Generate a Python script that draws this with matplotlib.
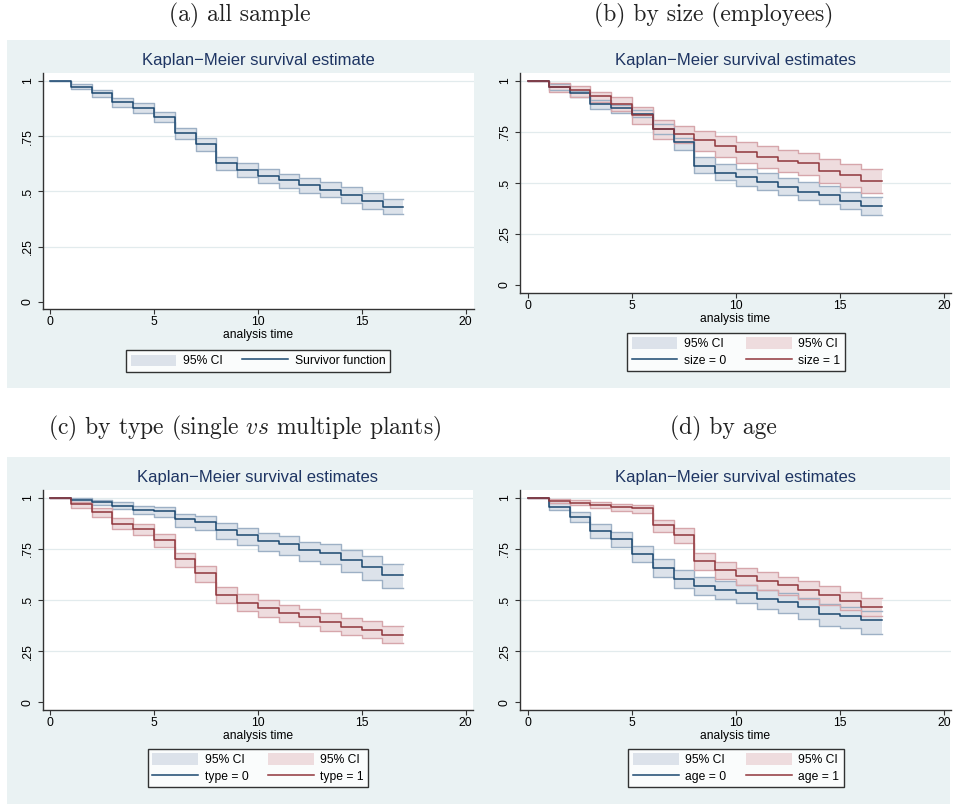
import matplotlib
matplotlib.use("Agg")
import matplotlib.pyplot as plt
from matplotlib.patches import Rectangle, Patch
from matplotlib.lines import Line2D

plt.rcParams['font.family'] = ['Liberation Sans', 'DejaVu Sans']
plt.rcParams['mathtext.fontset'] = 'cm'

# analysis time (step edges)
times = [0, 1, 2, 3, 4, 5, 6, 7, 8, 9, 10, 11, 12, 13, 14, 15, 16, 17]

# (a) all sample
all_s  = [1.0, 0.974, 0.947, 0.905, 0.877, 0.839, 0.764, 0.714, 0.628, 0.598, 0.571, 0.550, 0.530, 0.508, 0.485, 0.456, 0.431]
all_hi = [1.0, 0.985, 0.959, 0.923, 0.899, 0.861, 0.789, 0.741, 0.658, 0.628, 0.601, 0.581, 0.560, 0.541, 0.518, 0.491, 0.465]
all_lo = [1.0, 0.964, 0.929, 0.883, 0.854, 0.813, 0.736, 0.682, 0.598, 0.565, 0.538, 0.515, 0.492, 0.474, 0.449, 0.422, 0.396]

# (b) by size
size0_s  = [1.0, 0.972, 0.939, 0.889, 0.868, 0.840, 0.765, 0.703, 0.585, 0.551, 0.528, 0.506, 0.482, 0.457, 0.439, 0.411, 0.385]
size0_hi = [1.0, 0.985, 0.951, 0.905, 0.881, 0.857, 0.790, 0.719, 0.626, 0.594, 0.568, 0.549, 0.526, 0.503, 0.486, 0.457, 0.431]
size0_lo = [1.0, 0.956, 0.920, 0.865, 0.845, 0.822, 0.740, 0.662, 0.548, 0.516, 0.486, 0.467, 0.443, 0.418, 0.398, 0.372, 0.344]
size1_s  = [1.0, 0.972, 0.954, 0.926, 0.889, 0.832, 0.765, 0.739, 0.711, 0.679, 0.651, 0.626, 0.608, 0.597, 0.561, 0.540, 0.512]
size1_hi = [1.0, 0.989, 0.974, 0.948, 0.920, 0.871, 0.809, 0.780, 0.757, 0.728, 0.700, 0.679, 0.662, 0.649, 0.617, 0.595, 0.570]
size1_lo = [1.0, 0.948, 0.923, 0.896, 0.855, 0.788, 0.715, 0.698, 0.657, 0.625, 0.597, 0.572, 0.553, 0.540, 0.502, 0.479, 0.453]

# (c) by type
type0_s  = [1.0, 0.990, 0.979, 0.962, 0.941, 0.936, 0.897, 0.884, 0.842, 0.817, 0.791, 0.775, 0.746, 0.731, 0.695, 0.661, 0.622]
type0_hi = [1.0, 0.998, 0.992, 0.979, 0.962, 0.958, 0.920, 0.912, 0.876, 0.855, 0.830, 0.816, 0.786, 0.777, 0.747, 0.715, 0.679]
type0_lo = [1.0, 0.982, 0.966, 0.946, 0.920, 0.905, 0.860, 0.843, 0.798, 0.770, 0.741, 0.721, 0.692, 0.675, 0.638, 0.599, 0.558]
type1_s  = [1.0, 0.969, 0.930, 0.874, 0.848, 0.793, 0.700, 0.631, 0.524, 0.488, 0.459, 0.436, 0.415, 0.395, 0.370, 0.352, 0.331]
type1_hi = [1.0, 0.982, 0.949, 0.900, 0.874, 0.822, 0.732, 0.669, 0.563, 0.529, 0.499, 0.477, 0.455, 0.436, 0.413, 0.396, 0.374]
type1_lo = [1.0, 0.953, 0.907, 0.848, 0.817, 0.759, 0.661, 0.591, 0.485, 0.447, 0.418, 0.392, 0.372, 0.351, 0.330, 0.313, 0.290]

# (d) by age
age0_s  = [1.0, 0.958, 0.909, 0.840, 0.798, 0.724, 0.659, 0.604, 0.571, 0.551, 0.533, 0.506, 0.493, 0.465, 0.434, 0.424, 0.401]
age0_hi = [1.0, 0.974, 0.933, 0.871, 0.832, 0.763, 0.700, 0.646, 0.615, 0.595, 0.576, 0.550, 0.537, 0.509, 0.480, 0.468, 0.449]
age0_lo = [1.0, 0.941, 0.881, 0.802, 0.761, 0.685, 0.613, 0.558, 0.525, 0.506, 0.485, 0.456, 0.439, 0.408, 0.374, 0.362, 0.334]
age1_s  = [1.0, 0.985, 0.977, 0.966, 0.954, 0.949, 0.868, 0.819, 0.692, 0.648, 0.618, 0.595, 0.573, 0.551, 0.525, 0.497, 0.466]
age1_hi = [1.0, 0.995, 0.990, 0.980, 0.972, 0.966, 0.892, 0.852, 0.729, 0.688, 0.657, 0.636, 0.615, 0.594, 0.569, 0.542, 0.512]
age1_lo = [1.0, 0.974, 0.966, 0.949, 0.936, 0.925, 0.832, 0.778, 0.648, 0.602, 0.574, 0.550, 0.525, 0.504, 0.476, 0.450, 0.423]

yticks = [0, 0.25, 0.5, 0.75, 1]
ytick_labels = ['0', '.25', '.5', '.75', '1']
xticks = [0, 5, 10, 15, 20]

NAVY = '#1A476F'
MAROON = '#90353B'
CI_FILL = {NAVY: '#DCE2EA', MAROON: '#EEDCDE'}
CI_EDGE = {NAVY: '#9DB0C5', MAROON: '#D6A6AB'}
BG = '#EAF2F3'
TITLE_C = '#1E3563'

W, H = 954, 805
fig = plt.figure(figsize=(W / 100, H / 100), dpi=100)
fig.patch.set_facecolor('white')


def px_axes(x0, y0, x1, y1):
    return fig.add_axes([x0 / W, 1 - y1 / H, (x1 - x0) / W, (y1 - y0) / H], zorder=2)


def bg_rect(x0, y0, x1, y1):
    fig.patches.append(Rectangle((x0 / W, 1 - y1 / H), (x1 - x0) / W, (y1 - y0) / H,
                                 transform=fig.transFigure, facecolor=BG, edgecolor='none', zorder=-10))


def km(ax, s, hi, lo, color):
    s = s + [s[-1]]
    hi = hi + [hi[-1]]
    lo = lo + [lo[-1]]
    ax.fill_between(times, lo, hi, step='post', facecolor=CI_FILL[color], edgecolor='none', zorder=2)
    ax.step(times, hi, where='post', color=CI_EDGE[color], lw=1.0, zorder=3)
    ax.step(times, lo, where='post', color=CI_EDGE[color], lw=1.0, zorder=3)
    ax.step(times, s, where='post', color=color, lw=1.1, zorder=4)


def style(ax, xlim, ylim):
    ax.set_xlim(*xlim)
    ax.set_ylim(*ylim)
    ax.set_facecolor('white')
    for sp in ['top', 'right']:
        ax.spines[sp].set_visible(False)
    for sp in ['left', 'bottom']:
        ax.spines[sp].set_color('#333333')
        ax.spines[sp].set_linewidth(1.0)
    ax.set_xticks(xticks)
    ax.set_xticklabels([str(v) for v in xticks], fontsize=8.7)
    ax.set_yticks(yticks)
    ax.set_yticklabels(ytick_labels, fontsize=8.7, rotation=90, va='center')
    ax.tick_params(axis='both', length=3.6, width=0.8, color='#333333', pad=1.5)
    ax.tick_params(axis='y', pad=3)
    for yv in yticks[1:]:
        ax.axhline(yv, color='#E2EBED', lw=0.9, zorder=1)
    ax.set_xlabel('analysis time', fontsize=8.7, labelpad=0.5)


def legend(ax, handles, labels, cx, cy, ncol):
    lg = ax.legend(handles, labels, loc='center', bbox_to_anchor=(cx / W, 1 - cy / H),
                   bbox_transform=fig.transFigure, ncol=ncol, fontsize=8.7, frameon=True,
                   fancybox=False, edgecolor='black', handlelength=3.8, handleheight=1.1,
                   handletextpad=0.55, columnspacing=1.6, labelspacing=0.35, borderpad=0.35)
    lg.get_frame().set_linewidth(1.0)


def ci_patch(color):
    return Patch(facecolor=CI_FILL[color], edgecolor='none')


def line_h(color):
    return Line2D([], [], color=color, lw=1.1)


title_1 = 'Kaplan\u2212Meier survival estimate'
title_n = 'Kaplan\u2212Meier survival estimates'

# backgrounds
bg_rect(7, 40, 477, 388)
bg_rect(477, 40, 950, 388)
bg_rect(7, 457, 477, 804)
bg_rect(477, 457, 950, 804)

# captions
cap_kw = dict(ha='center', va='center', fontsize=17, family='cmr10', color='#222222')
fig.text(240 / W, 1 - 15 / H, '(a) all sample', **cap_kw)
fig.text(714 / W, 1 - 15 / H, '(b) by size (employees)', **cap_kw)
fig.text(245 / W, 1 - 428 / H, '(c) by type (single $vs$ multiple plants)', **cap_kw)
fig.text(723 / W, 1 - 428 / H, '(d) by age', **cap_kw)

# (a)
ax = px_axes(43, 73, 474, 309)
km(ax, all_s, all_hi, all_lo, NAVY)
style(ax, (-0.34, 20.4), (-0.032, 1.036))
fig.text(258 / W, 1 - 60 / H, title_1, ha='center', va='center', fontsize=12, color=TITLE_C)
legend(ax, [ci_patch(NAVY), line_h(NAVY)], ['95% CI', 'Survivor function'], 258, 361, 2)

# (b)
ax = px_axes(520, 73, 951, 293)
km(ax, size0_s, size0_hi, size0_lo, NAVY)
km(ax, size1_s, size1_hi, size1_lo, MAROON)
style(ax, (-0.385, 20.34), (-0.039, 1.039))
fig.text(736 / W, 1 - 60 / H, title_n, ha='center', va='center', fontsize=12, color=TITLE_C)
legend(ax, [ci_patch(NAVY), line_h(NAVY), ci_patch(MAROON), line_h(MAROON)],
       ['95% CI', 'size = 0', '95% CI', 'size = 1'], 736, 352, 2)

# (c)
ax = px_axes(43, 490, 473, 710)
km(ax, type0_s, type0_hi, type0_lo, NAVY)
km(ax, type1_s, type1_hi, type1_lo, MAROON)
style(ax, (-0.34, 20.36), (-0.038, 1.039))
fig.text(258 / W, 1 - 477 / H, title_n, ha='center', va='center', fontsize=12, color=TITLE_C)
legend(ax, [ci_patch(NAVY), line_h(NAVY), ci_patch(MAROON), line_h(MAROON)],
       ['95% CI', 'type = 0', '95% CI', 'type = 1'], 258, 768, 2)

# (d)
ax = px_axes(520, 490, 951, 710)
km(ax, age0_s, age0_hi, age0_lo, NAVY)
km(ax, age1_s, age1_hi, age1_lo, MAROON)
style(ax, (-0.385, 20.34), (-0.038, 1.039))
fig.text(736 / W, 1 - 477 / H, title_n, ha='center', va='center', fontsize=12, color=TITLE_C)
legend(ax, [ci_patch(NAVY), line_h(NAVY), ci_patch(MAROON), line_h(MAROON)],
       ['95% CI', 'age = 0', '95% CI', 'age = 1'], 736, 768, 2)

fig.savefig('out.png', dpi=100, facecolor='white')
